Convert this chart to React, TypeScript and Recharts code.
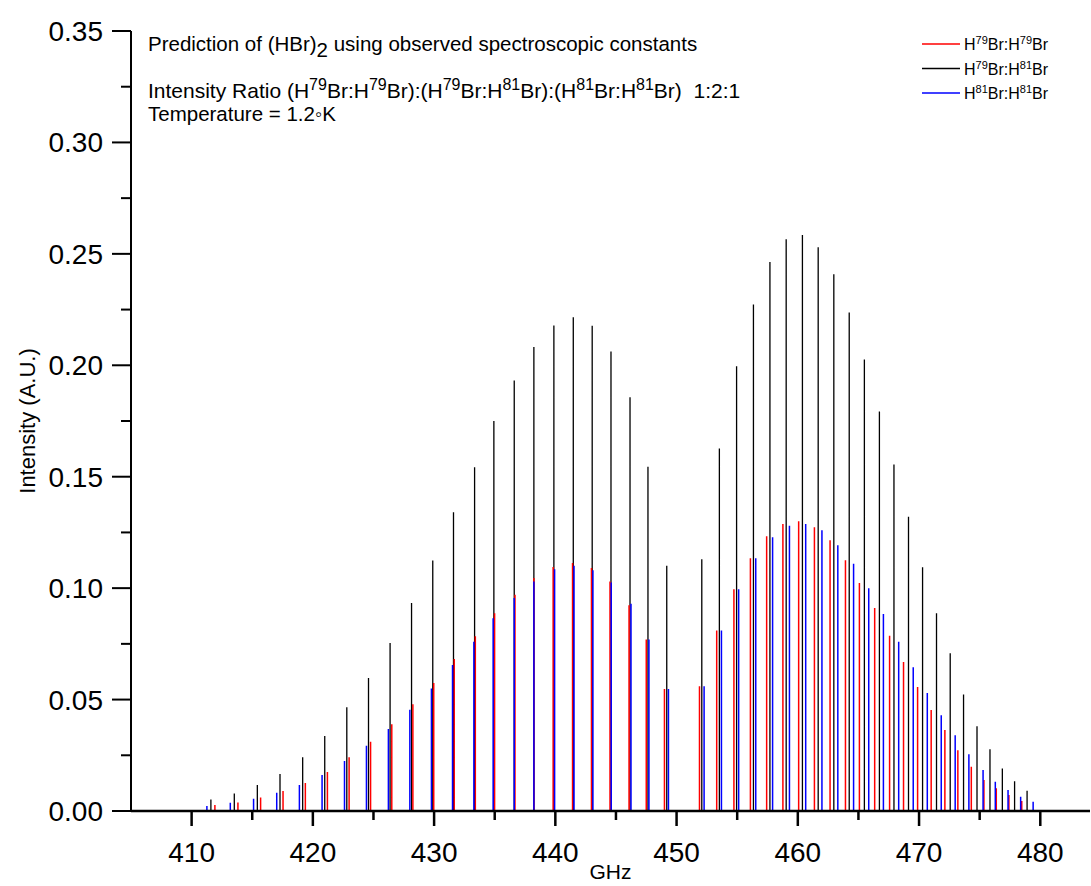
import { LineChart, Line, XAxis, YAxis } from "recharts";

const FONT = '"Liberation Sans", Arial, Helvetica, sans-serif';

// H79Br:H81Br (black)
const mixFreq = [
  411.59, 413.52, 415.42, 417.29, 419.16, 420.98, 422.8, 424.59, 426.37, 428.14, 429.89, 431.6,
  433.34, 434.93, 436.61, 438.23, 439.88, 441.48, 443.04, 444.59, 446.16, 447.64, 449.19,
  452.08, 453.53, 454.95, 456.34, 457.7, 459.04, 460.38, 461.68, 462.97, 464.24, 465.49, 466.73,
  467.93, 469.13, 470.29, 471.44, 472.57, 473.67, 474.78, 475.85, 476.87, 477.88, 478.91,
];
const mixInt = [
  0.0052, 0.0079, 0.0117, 0.0166, 0.0241, 0.0336, 0.0465, 0.0597, 0.0754, 0.0933, 0.1124, 0.134,
  0.1543, 0.175, 0.1932, 0.2082, 0.2179, 0.2215, 0.2177, 0.2062, 0.1857, 0.1545, 0.11,
  0.113, 0.1627, 0.1996, 0.2273, 0.2464, 0.2565, 0.2585, 0.253, 0.2409, 0.2237, 0.2026, 0.1793,
  0.1555, 0.132, 0.1094, 0.0887, 0.0708, 0.0523, 0.038, 0.0277, 0.0191, 0.0134, 0.0091,
];

// H79Br:H79Br (red)
const h79Freq = [
  411.92, 413.82, 415.69, 417.54, 419.38, 421.2, 422.99, 424.76, 426.51, 428.25, 429.97, 431.66,
  433.4, 434.99, 436.67, 438.23, 439.82, 441.42, 442.98, 444.51, 446.08, 447.5, 449.0,
  451.89, 453.31, 454.73, 456.09, 457.43, 458.77, 460.07, 461.37, 462.66, 463.93, 465.08, 466.34,
  467.57, 468.72, 469.88, 471.0, 472.13, 473.2, 474.31, 475.35, 476.37, 477.41, 478.47,
];
const h79Int = [
  0.0027, 0.0038, 0.0061, 0.009, 0.0126, 0.0175, 0.0241, 0.0311, 0.0389, 0.0479, 0.0574, 0.0682,
  0.0784, 0.0887, 0.097, 0.1045, 0.1095, 0.1113, 0.109, 0.103, 0.0923, 0.077, 0.0547,
  0.056, 0.081, 0.0995, 0.1134, 0.1233, 0.1288, 0.13, 0.1273, 0.1215, 0.1125, 0.1023, 0.0911,
  0.0786, 0.0669, 0.0556, 0.0453, 0.0363, 0.0273, 0.0199, 0.0139, 0.0102, 0.0072, 0.0045,
];

// H81Br:H81Br (blue)
const h81Freq = [
  411.26, 413.19, 415.11, 417.02, 418.89, 420.76, 422.61, 424.42, 426.23, 428.0, 429.78, 431.52,
  433.28, 434.87, 436.61, 438.23, 439.94, 441.54, 443.1, 444.61, 446.24, 447.72, 449.33,
  452.27, 453.7, 455.12, 456.53, 457.92, 459.31, 460.65, 461.99, 463.3, 464.6, 465.85, 467.06,
  468.32, 469.52, 470.68, 471.83, 472.98, 474.11, 475.28, 476.29, 477.34, 478.38, 479.41,
];
const h81Int = [
  0.0022, 0.0037, 0.0055, 0.0082, 0.0117, 0.0161, 0.0224, 0.0293, 0.0368, 0.0454, 0.055, 0.0655,
  0.0759, 0.0865, 0.0956, 0.103, 0.1085, 0.11, 0.108, 0.1025, 0.093, 0.077, 0.0547,
  0.056, 0.081, 0.0995, 0.1134, 0.1228, 0.128, 0.1288, 0.126, 0.1193, 0.111, 0.1, 0.0884,
  0.076, 0.0645, 0.053, 0.043, 0.034, 0.0255, 0.0184, 0.0131, 0.0094, 0.0064, 0.0042,
];

const xTicks = [410, 415, 420, 425, 430, 435, 440, 445, 450, 455, 460, 465, 470, 475, 480];
const yTicks = [0, 0.025, 0.05, 0.075, 0.1, 0.125, 0.15, 0.175, 0.2, 0.225, 0.25, 0.275, 0.3, 0.325, 0.35];

// each line becomes a vertical segment 0 -> intensity, broken by a null point
const sticks = (xs: number[], ys: number[]) =>
  xs.flatMap((x, i) => [
    { x, y: 0 },
    { x, y: ys[i] },
    { x, y: null },
  ]);

const XTick = ({ x, y, payload }: any) => {
  const major = payload.value % 10 === 0;
  return (
    <g>
      <line x1={x} x2={x} y1={y} y2={y + (major ? 15 : 9)} stroke="#000" strokeWidth={2.5} />
      {major && (
        <text x={x} y={y + 51} textAnchor="middle" fontSize={28} fontFamily={FONT} fill="#000">
          {payload.value}
        </text>
      )}
    </g>
  );
};

const YTick = ({ x, y, payload }: any) => {
  const v = payload.value;
  const major = Math.abs(v * 20 - Math.round(v * 20)) < 1e-6;
  return (
    <g>
      <line x1={x} x2={x - (major ? 19 : 10)} y1={y} y2={y} stroke="#000" strokeWidth={2} />
      {major && (
        <text x={x - 28} y={y + 10} textAnchor="end" fontSize={28} fontFamily={FONT} fill="#000">
          {v.toFixed(2)}
        </text>
      )}
    </g>
  );
};

const Iso = ({ a, b, dy = 7, size = 11 }: { a: string; b: string; dy?: number; size?: number }) => (
  <>
    <tspan>H</tspan>
    <tspan dy={-dy} fontSize={size}>{a}</tspan>
    <tspan dy={dy}>Br:H</tspan>
    <tspan dy={-dy} fontSize={size}>{b}</tspan>
    <tspan dy={dy}>Br</tspan>
  </>
);

const legendRows = [
  { color: "#ff0000", a: "79", b: "79" },
  { color: "#000000", a: "79", b: "81" },
  { color: "#0000ff", a: "81", b: "81" },
];

export default function App() {
  return (
    <div style={{ position: "absolute", left: 0, top: 0, width: 1091, height: 886, background: "#fff" }}>
      <LineChart width={1091} height={886} margin={{ top: 31, right: 1, bottom: 0, left: 0 }}>
        <XAxis
          dataKey="x"
          type="number"
          domain={[405, 484.1]}
          allowDataOverflow
          ticks={xTicks}
          height={75}
          tickSize={0}
          tickMargin={0}
          tickLine={false}
          axisLine={{ stroke: "#000", strokeWidth: 2.5 }}
          tick={<XTick />}
          label={{
            value: "GHz",
            content: ({ viewBox }: any) => (
              <text
                x={viewBox.x + viewBox.width / 2}
                y={viewBox.y + viewBox.height - 7}
                textAnchor="middle"
                fontSize={21}
                fontFamily={FONT}
                fill="#000"
              >
                GHz
              </text>
            ),
          }}
        />
        <YAxis
          type="number"
          domain={[0, 0.35]}
          allowDataOverflow
          ticks={yTicks}
          width={131}
          tickSize={0}
          tickMargin={0}
          tickLine={false}
          axisLine={{ stroke: "#000", strokeWidth: 2 }}
          tick={<YTick />}
          label={{
            value: "Intensity (A.U.)",
            content: ({ viewBox }: any) => (
              <text
                transform={`translate(${viewBox.x + 27},${viewBox.y + viewBox.height / 2}) rotate(-90)`}
                textAnchor="middle"
                dominantBaseline="central"
                fontSize={22}
                fontFamily={FONT}
                fill="#000"
              >
                Intensity (A.U.)
              </text>
            ),
          }}
        />
        <Line
          data={sticks(mixFreq, mixInt)}
          dataKey="y"
          type="linear"
          stroke="#000000"
          strokeWidth={1.3}
          dot={false}
          activeDot={false}
          isAnimationActive={false}
        />
        <Line
          data={sticks(h79Freq, h79Int)}
          dataKey="y"
          type="linear"
          stroke="#ff0000"
          strokeWidth={1.5}
          dot={false}
          activeDot={false}
          isAnimationActive={false}
        />
        <Line
          data={sticks(h81Freq, h81Int)}
          dataKey="y"
          type="linear"
          stroke="#0000ff"
          strokeWidth={1.5}
          dot={false}
          activeDot={false}
          isAnimationActive={false}
        />
      </LineChart>

      <svg
        width={1091}
        height={886}
        style={{ position: "absolute", left: 0, top: 0, pointerEvents: "none" }}
        fontFamily={FONT}
      >
        <text x={148} y={51} fontSize={20.5} fill="#000">
          <tspan>Prediction of (HBr)</tspan>
          <tspan dy={6}>2</tspan>
          <tspan dy={-6}> using observed spectroscopic constants</tspan>
        </text>
        <text x={148} y={98} fontSize={21} fill="#000" xmlSpace="preserve">
          <tspan>Intensity Ratio (</tspan>
          <Iso a="79" b="79" dy={8} size={16} />
          <tspan>):(</tspan>
          <Iso a="79" b="81" dy={8} size={16} />
          <tspan>):(</tspan>
          <Iso a="81" b="81" dy={8} size={16} />
          <tspan>{")  1:2:1"}</tspan>
        </text>
        <text x={148} y={121} fontSize={20.5} fill="#000">
          Temperature = 1.2◦K
        </text>

        {legendRows.map((r, i) => {
          const ly = 44 + i * 24.5;
          return (
            <g key={i}>
              <line x1={922} x2={960} y1={ly} y2={ly} stroke={r.color} strokeWidth={1.3} />
              <text x={964} y={ly + 6} fontSize={16} fill="#000">
                <Iso a={r.a} b={r.b} dy={6} size={11} />
              </text>
            </g>
          );
        })}
      </svg>
    </div>
  );
}
